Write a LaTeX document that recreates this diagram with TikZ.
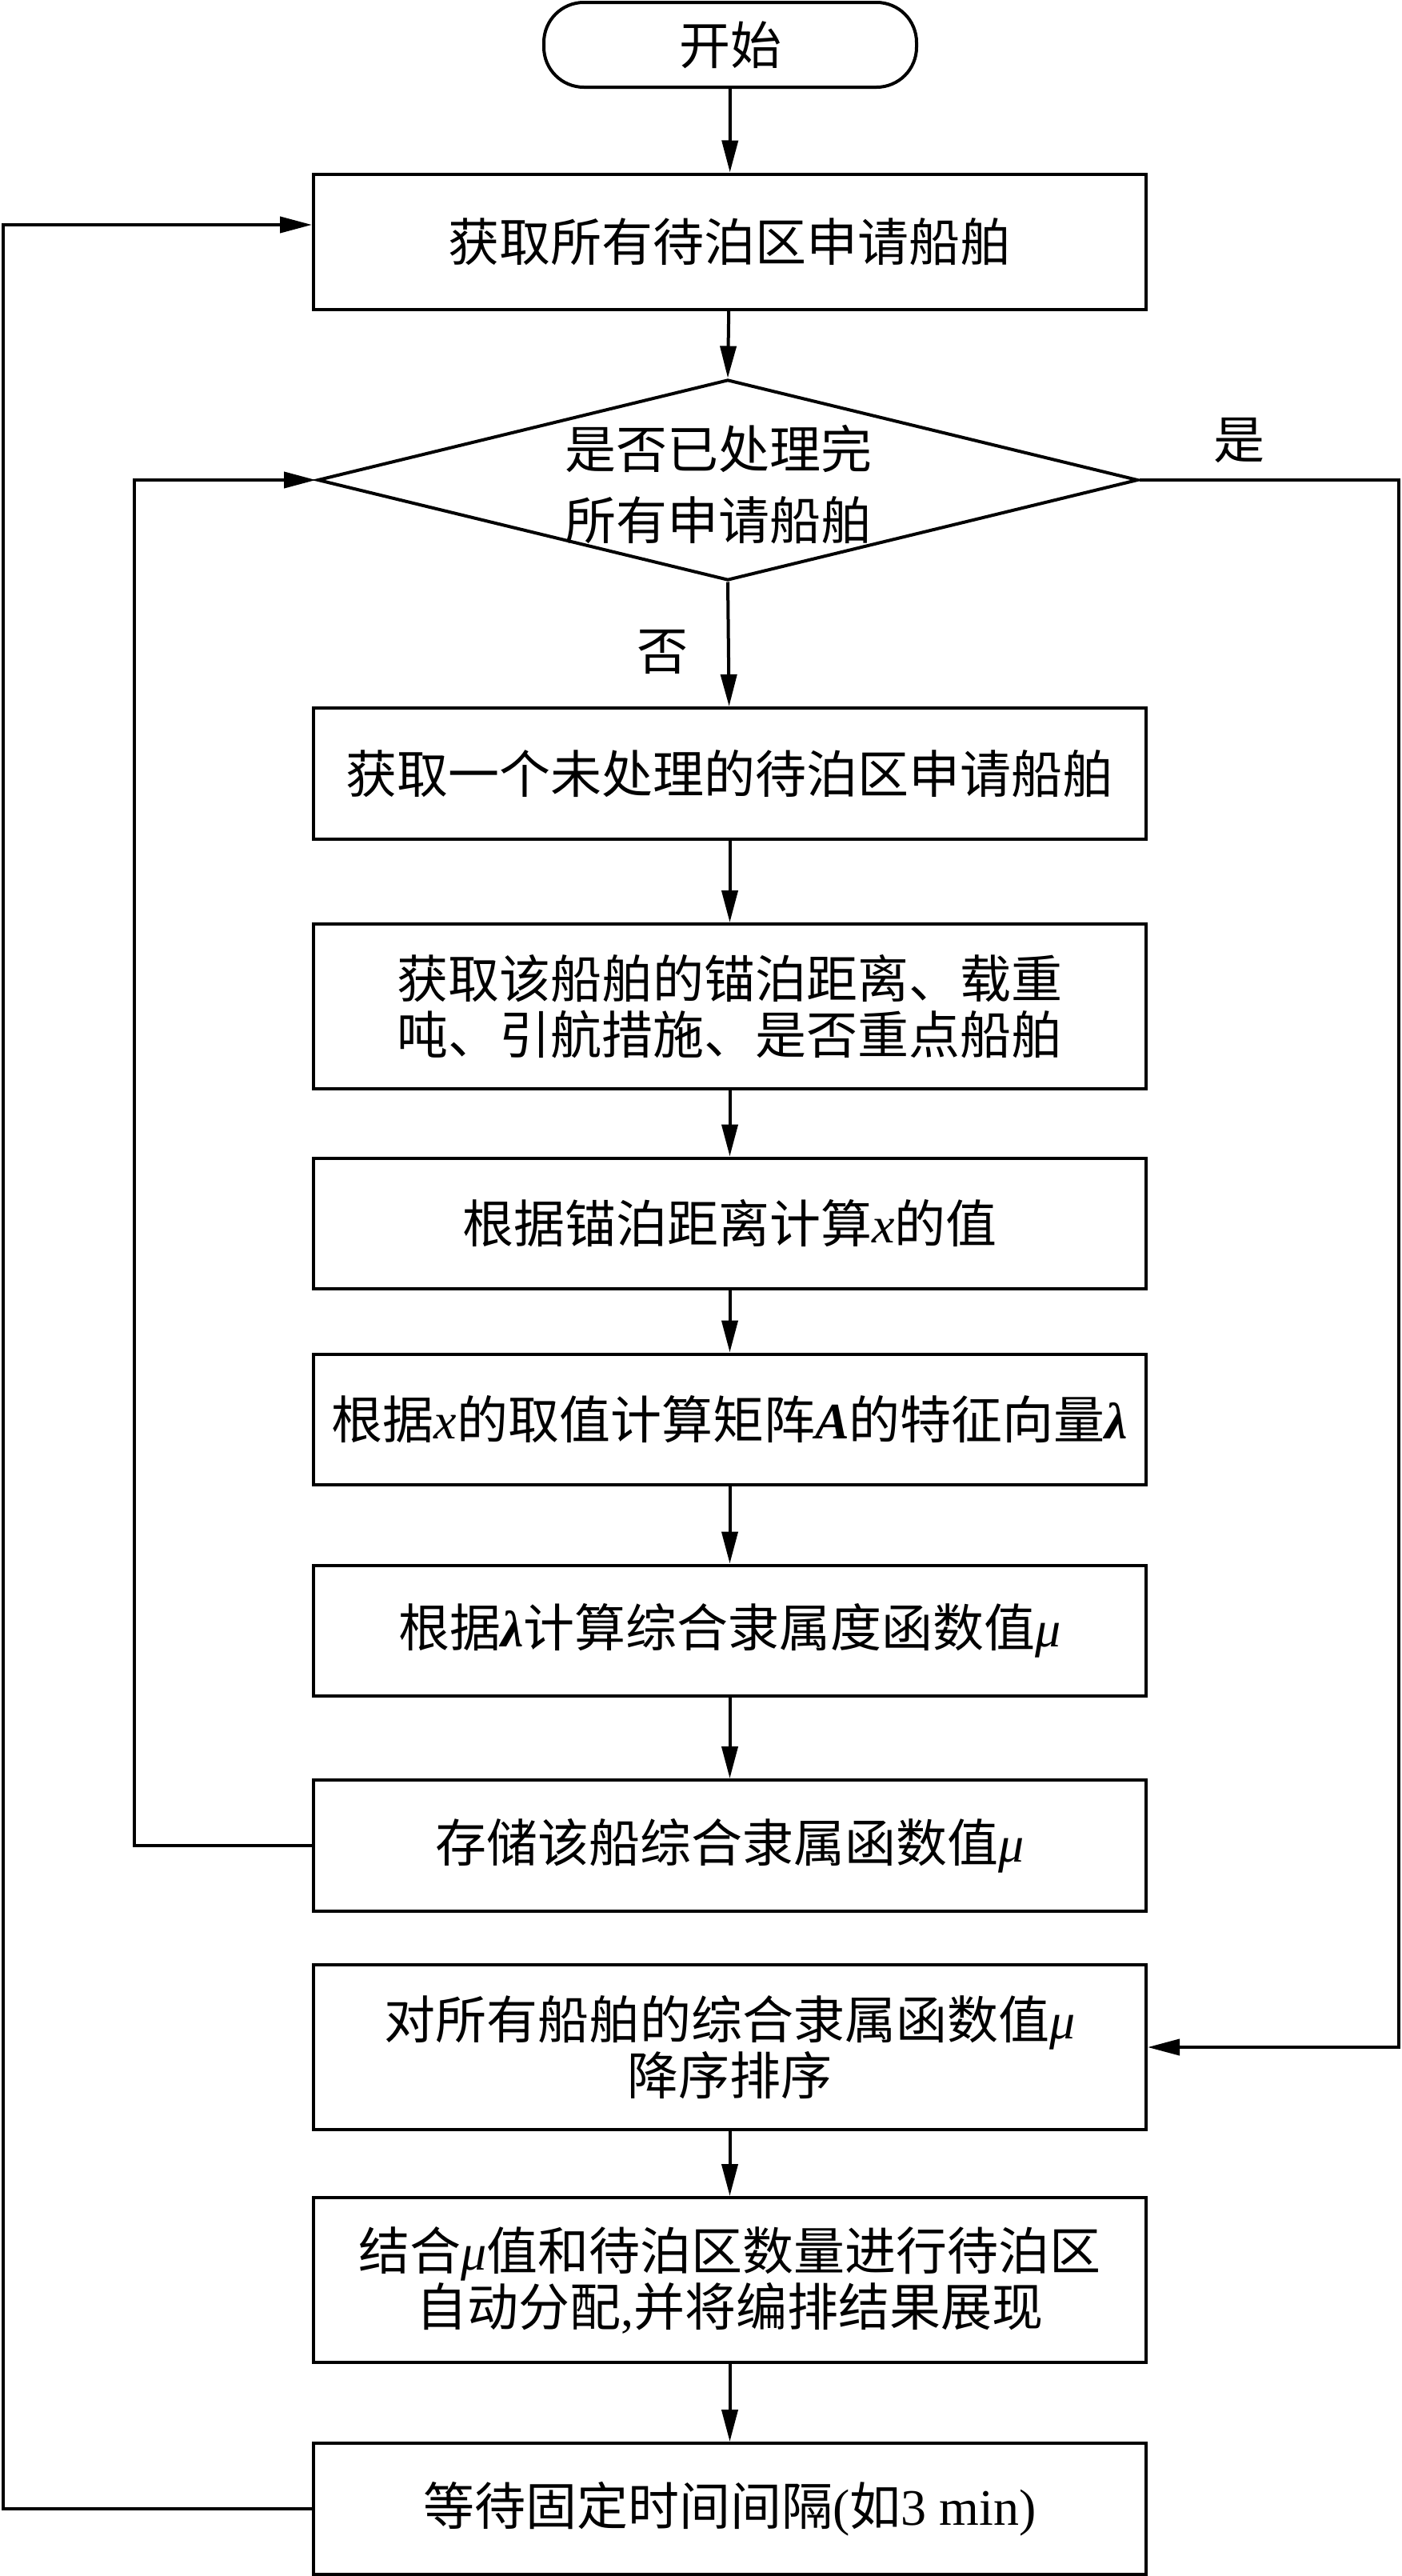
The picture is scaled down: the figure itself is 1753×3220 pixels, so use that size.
\documentclass[tikz,border=0pt]{standalone}
\usepackage{fontspec}
\setmainfont{Liberation Serif}
\newfontfamily\cjk{Noto Sans CJK SC}
\usetikzlibrary{arrows.meta,shapes.geometric}
\newcommand{\myx}{{\rmfamily\itshape x}}
\newcommand{\mymu}{{\rmfamily\itshape μ}}
\newcommand{\myA}{{\rmfamily\bfseries\itshape A}}
\newcommand{\mylam}{{\rmfamily\bfseries\itshape λ}}
\newcommand{\mylat}[1]{{\rmfamily #1}}
\tikzset{
  txt/.style={font=\cjk\fontsize{64}{70}\selectfont, align=center, inner sep=0pt},
  procbox/.style={txt, draw, line width=4pt, minimum width=1041pt},
  arr/.style={line width=4pt, -{Triangle[length=40pt,width=20pt]}},
  ln/.style={line width=4pt}
}
\begin{document}
\begin{tikzpicture}[x=1pt,y=-1pt]
\useasboundingbox (0,0) rectangle (1753,3220);
\node[txt, draw, line width=4pt, rounded corners=50pt, minimum width=466pt, minimum height=106pt] (start) at (913,56) {开始};
\node[procbox, minimum height=169pt] (b1) at (912.5,302) {获取所有待泊区申请船舶};
\node[draw, line width=4pt, shape=diamond, inner sep=0pt, minimum width=1026pt, minimum height=251pt] (dec) at (910,600) {};
\node[txt, font=\cjk\fontsize{64}{89}\selectfont] (dect) at (898,606) {是否已处理完\\所有申请船舶};
\node[procbox, minimum height=164pt] (b2) at (912.5,967) {获取一个未处理的待泊区申请船舶};
\node[procbox, minimum height=206pt] (b3) at (912.5,1258) {获取该船舶的锚泊距离、载重\\吨、引航措施、是否重点船舶};
\node[procbox, minimum height=163pt] (b4) at (912.5,1529) {根据锚泊距离计算\myx 的值};
\node[procbox, minimum height=163pt] (b5) at (912.5,1774) {根据\myx 的取值计算矩阵\myA 的特征向量\mylam};
\node[procbox, minimum height=163pt] (b6) at (912.5,2038) {根据\mylam 计算综合隶属度函数值\mymu};
\node[procbox, minimum height=164pt] (b7) at (912.5,2307) {存储该船综合隶属函数值\mymu};
\node[procbox, minimum height=206pt] (b8) at (912.5,2559) {对所有船舶的综合隶属函数值\mymu\\降序排序};
\node[procbox, minimum height=206pt] (b9) at (912.5,2850) {结合\mymu 值和待泊区数量进行待泊区\\自动分配\mylat{,}并将编排结果展现};
\node[procbox, minimum height=164pt] (b10) at (912.5,3136) {等待固定时间间隔\mylat{(}如\mylat{3 min)}};
\node[txt] (yes) at (1549,551) {是};
\node[txt] (no) at (828,815) {否};
\coordinate (L0) at (4,0);
\coordinate (L1) at (168,0);
\coordinate (R) at (1749,0);
\coordinate (b1in) at ([yshift=21pt]b1.west);
\draw[arr] (start) -- (b1);
\draw[arr] (b1) -- (dec.north);
\draw[arr] (dec.south) -- (b2);
\draw[arr] (b2) -- (b3);
\draw[arr] (b3) -- (b4);
\draw[arr] (b4) -- (b5);
\draw[arr] (b5) -- (b6);
\draw[arr] (b6) -- (b7);
\draw[arr] (b8) -- (b9);
\draw[arr] (b9) -- (b10);
\draw[arr] (b7.west) -| (L1 |- dec.west) -- (dec.west);
\draw[arr] (dec.east) -| (R |- b8.east) -- (b8.east);
\draw[arr] (b10.west) -| (L0 |- b1in) -- (b1in);
\end{tikzpicture}
\end{document}
